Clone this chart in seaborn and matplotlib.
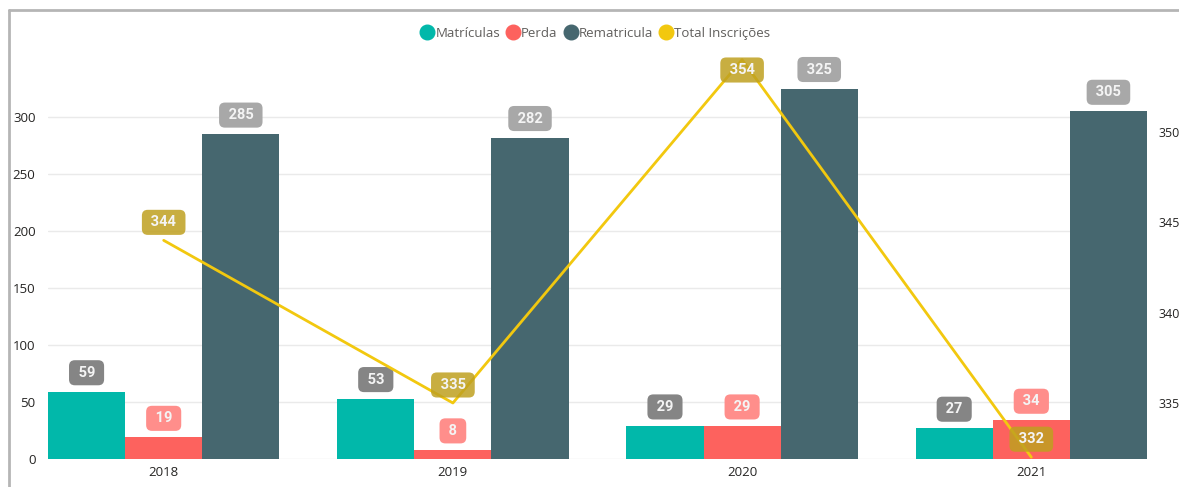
import numpy as np
import pandas as pd
import matplotlib
matplotlib.use("Agg")
import matplotlib.pyplot as plt
from matplotlib.lines import Line2D
import seaborn as sns

# ---- data ----
years = ["2018", "2019", "2020", "2021"]
matriculas = [59, 53, 29, 27]
perda = [19, 8, 29, 34]
rematricula = [285, 282, 325, 305]
total_inscricoes = [344, 335, 354, 332]
series_names = ["Matrículas", "Perda", "Rematricula"]
line_name = "Total Inscrições"
left_ticks = [0, 50, 100, 150, 200, 250, 300]
right_ticks = [335, 340, 345, 350]

# ---- style ----
bar_colors = ["#01B8AA", "#FD625E", "#46676F"]
line_color = "#F2C80F"
label_box_colors = ["#858585", "#FF8E8B", "#A8A8A8"]
line_label_color = "#BFA020"
text_color = "#252423"

sns.set_theme(style="white")
plt.rcParams["font.family"] = ["Open Sans", "DejaVu Sans"]

W, H = 1179, 487
fig = plt.figure(figsize=(W / 100, H / 100), dpi=100)
fig.patch.set_facecolor("white")

ax_left, ax_right, ax_bottom, ax_top = 48, 1147, 459, 57
ax = fig.add_axes([ax_left / W, 1 - ax_bottom / H,
                   (ax_right - ax_left) / W, (ax_bottom - ax_top) / H])

df = pd.DataFrame({
    "Ano": years * 3,
    "Serie": sum([[s] * len(years) for s in series_names], []),
    "Valor": matriculas + perda + rematricula,
})

sns.barplot(data=df, x="Ano", y="Valor", hue="Serie", hue_order=series_names,
            palette=bar_colors, saturation=1, width=0.8, ax=ax, legend=False,
            zorder=2, edgecolor="none")

px_per_unit_left = 1.14
ax.set_ylim(0, (ax_bottom - ax_top) / px_per_unit_left)
ax.set_xlim(-0.4, len(years) - 0.6)
ax.set_yticks(left_ticks)
ax.grid(axis="y", color="#EAEAEA", linewidth=1, zorder=0)
ax.grid(axis="x", visible=False)
ax.set_xlabel("")
ax.set_ylabel("")
for s in ax.spines.values():
    s.set_visible(False)
ax.tick_params(axis="y", length=0, pad=9, labelsize=9.5, labelcolor=text_color)
ax.tick_params(axis="x", length=0, pad=5, labelsize=9.5, labelcolor=text_color)

# twin axis for line
ax2 = ax.twinx()
px_per_unit_right = 18.07
r_min = 331.9
ax2.set_ylim(r_min, r_min + (ax_bottom - ax_top) / px_per_unit_right)
sns.lineplot(x=np.arange(len(years)), y=total_inscricoes, color=line_color,
             linewidth=2, ax=ax2, legend=False, zorder=3)
ax2.set_yticks(right_ticks)
ax2.set_xlim(ax.get_xlim())
for s in ax2.spines.values():
    s.set_visible(False)
ax2.tick_params(axis="y", length=0, pad=8, labelsize=9, labelcolor=text_color)
ax2.grid(False)
ax2.patch.set_visible(False)

label_font = dict(family=["Roboto", "DejaVu Sans"], weight="bold", size=10.5,
                  color="#F4F4F4")

def box(fc, alpha=1.0):
    return dict(boxstyle="round,pad=0.38,rounding_size=0.4", fc=fc,
                ec="none", alpha=alpha)

# bar labels
for i, cont in enumerate(ax.containers):
    for bar in cont.patches:
        xc = bar.get_x() + bar.get_width() / 2
        h = bar.get_height()
        ax.annotate(f" {int(round(h))} ", (xc, h), xytext=(0, 19),
                    textcoords="offset pixels", ha="center", va="center",
                    bbox=box(label_box_colors[i]), zorder=5, **label_font)

# line labels
fig.canvas.draw()
top_px = ax2.bbox.y1
for xi, v in zip(np.arange(len(years)), total_inscricoes):
    py = ax2.transData.transform((xi, v))[1]
    off = 18
    if py + off + 12 > top_px:
        off = top_px - 13 - py
    ax2.annotate(f" {v} ", (xi, v), xytext=(0, off), textcoords="offset pixels",
                 ha="center", va="center", bbox=box(line_label_color, 0.85),
                 zorder=6, annotation_clip=False, **label_font)

# legend
handles = [Line2D([], [], marker="o", linestyle="", markersize=10.5,
                  markerfacecolor=c, markeredgecolor=c)
           for c in bar_colors + [line_color]]
fig.legend(handles, series_names + [line_name], loc="center",
           bbox_to_anchor=(595 / W, 1 - 33 / H), ncol=4, frameon=False,
           handletextpad=0.0, columnspacing=0.4, fontsize=9.5,
           labelcolor="#605E5C", handlelength=1.2)

# frame border (top and left)
border_c = "#B5B5B5"
fig.add_artist(Line2D([9 / W, 9 / W], [0, 1 - 10 / H], color=border_c, lw=2,
                      transform=fig.transFigure))
fig.add_artist(Line2D([9 / W, 1], [1 - 10 / H, 1 - 10 / H], color=border_c, lw=2,
                      transform=fig.transFigure))

fig.savefig("out.png", dpi=100, facecolor="white")
